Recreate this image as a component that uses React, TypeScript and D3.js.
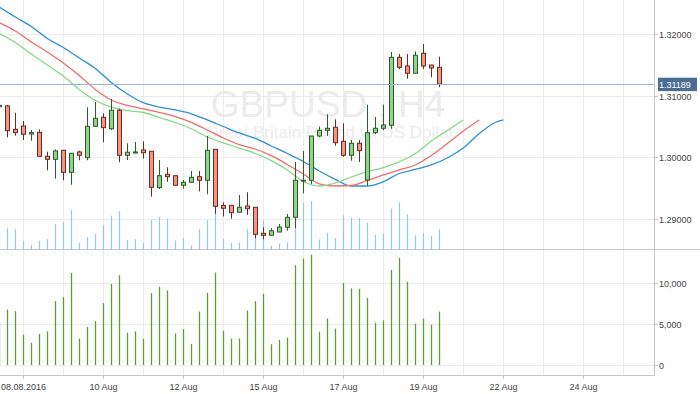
import { useEffect, useRef } from "react";
import * as d3 from "d3";

// H4 bars; the first one (index -1) is cut off at the left edge
const firstIndex = -1;
const opens = [1.30821, 1.30833, 1.30455, 1.30508, 1.30379, 1.30406, 1.30017, 1.29968, 1.30114, 1.29757, 1.30087,
  1.29994, 1.30503, 1.30649, 1.30464, 1.30763, 1.30033, 1.30070, 1.30119, 1.30098, 1.29508,
  1.29725, 1.29702, 1.29547, 1.29595, 1.29686, 1.29628, 1.30130, 1.29219, 1.29222, 1.29109,
  1.29211, 1.29190, 1.28768, 1.28736, 1.28789, 1.28866, 1.29028, 1.29620, 1.29628, 1.30346,
  1.30438, 1.30487, 1.30260, 1.30033, 1.30228, 1.29633, 1.30400, 1.30471, 1.30519, 1.31622,
  1.31481, 1.31363, 1.31687, 1.31497, 1.31460];
const highs = [1.30857, 1.30849, 1.30724, 1.30589, 1.30443, 1.30455, 1.30091, 1.30130, 1.30114, 1.30066, 1.30108,
  1.30811, 1.30897, 1.30714, 1.30941, 1.30789, 1.30228, 1.30249, 1.30260, 1.30098, 1.29957,
  1.29839, 1.29702, 1.29633, 1.29779, 1.29779, 1.30346, 1.30130, 1.29271, 1.29222, 1.29389,
  1.29433, 1.29190, 1.28866, 1.28854, 1.28919, 1.29081, 1.29925, 1.30103, 1.30346, 1.30497,
  1.30698, 1.30617, 1.30552, 1.30281, 1.30281, 1.30854, 1.30654, 1.30854, 1.31708, 1.31676,
  1.31676, 1.31719, 1.31838, 1.31497, 1.31632];
const lows = [1.30808, 1.30325, 1.30351, 1.30281, 1.30270, 1.30017, 1.29790, 1.29654, 1.29628, 1.29556, 1.29952,
  1.29952, 1.30503, 1.30244, 1.30443, 1.29920, 1.29957, 1.30070, 1.29978, 1.29362, 1.29487,
  1.29605, 1.29547, 1.29492, 1.29595, 1.29449, 1.29401, 1.29086, 1.29041, 1.29005, 1.29109,
  1.29065, 1.28687, 1.28671, 1.28736, 1.28789, 1.28810, 1.28849, 1.29417, 1.29568, 1.30325,
  1.30346, 1.30189, 1.30010, 1.29946, 1.29925, 1.29540, 1.30379, 1.30438, 1.30464, 1.31428,
  1.31275, 1.31363, 1.31428, 1.31298, 1.31136];
const closes = [1.30844, 1.30432, 1.30400, 1.30374, 1.30400, 1.30017, 1.29968, 1.30103, 1.29757, 1.30066, 1.30033,
  1.30503, 1.30633, 1.30481, 1.30763, 1.30033, 1.30082, 1.30087, 1.30075, 1.29514, 1.29702,
  1.29686, 1.29547, 1.29595, 1.29676, 1.29628, 1.30114, 1.29206, 1.29174, 1.29102, 1.29190,
  1.29167, 1.28752, 1.28736, 1.28810, 1.28870, 1.29028, 1.29628, 1.29628, 1.30346, 1.30438,
  1.30471, 1.30237, 1.30033, 1.30228, 1.30108, 1.30400, 1.30471, 1.30524, 1.31622, 1.31460,
  1.31363, 1.31655, 1.31481, 1.31449, 1.31189];
const volumes = [5200, 6760, 6560, 3690, 2710, 3770, 4100, 7790, 8280, 11230, 3240,
  4630, 5370, 7540, 9880, 10940, 3930, 4100, 3200, 8770, 9550,
  9100, 3850, 4390, 2580, 6520, 8810, 11270, 4180, 3200, 3240,
  6640, 7790, 8690, 2540, 3070, 3360, 12170, 12990, 13440, 4060,
  5660, 4430, 10000, 9340, 9300, 8160, 5160, 5450, 11600, 13070,
  10160, 5040, 5660, 4920, 6520];

// alligator lines: [bar index, price]
const jawLine: [number, number][] = [[-1, 1.32438], [1, 1.32276], [3, 1.32122], [5, 1.31927], [7, 1.31781], [9, 1.31611],
  [11, 1.31441], [13, 1.31214], [15, 1.31027], [17, 1.30886], [19, 1.30816], [21, 1.30768], [23, 1.30706],
  [25, 1.30606], [27, 1.30500], [29, 1.30395], [31, 1.30306], [33, 1.30184], [35, 1.30062], [37, 1.29933],
  [39, 1.29779], [41, 1.29644], [43, 1.29535], [45, 1.29535], [47, 1.29605], [49, 1.29738], [51, 1.29803],
  [53, 1.29876], [55, 1.29989], [57, 1.30151], [59, 1.30387], [61, 1.30565], [62, 1.30606]];
const teethLine: [number, number][] = [[-1, 1.32183], [1, 1.32049], [3, 1.31870], [5, 1.31708], [7, 1.31530], [9, 1.31327],
  [11, 1.31100], [13, 1.30930], [15, 1.30841], [17, 1.30787], [19, 1.30730], [21, 1.30661], [23, 1.30568],
  [25, 1.30443], [27, 1.30314], [29, 1.30205], [31, 1.30135], [33, 1.30027], [35, 1.29884], [37, 1.29730],
  [39, 1.29571], [41, 1.29535], [43, 1.29543], [45, 1.29625], [47, 1.29714], [49, 1.29795], [51, 1.29876],
  [53, 1.30030], [55, 1.30224], [57, 1.30427], [59, 1.30606]];
const lipsLine: [number, number][] = [[-1, 1.32011], [1, 1.31862], [3, 1.31676], [5, 1.31497], [7, 1.31319], [9, 1.31100],
  [11, 1.30922], [13, 1.30816], [15, 1.30760], [17, 1.30727], [19, 1.30646], [21, 1.30565], [23, 1.30463],
  [25, 1.30330], [27, 1.30236], [29, 1.30151], [31, 1.30062], [33, 1.29946], [35, 1.29795], [37, 1.29608],
  [39, 1.29535], [41, 1.29584], [43, 1.29681], [45, 1.29770], [47, 1.29835], [49, 1.29925], [51, 1.30062],
  [53, 1.30265], [55, 1.30435], [57, 1.30606]];

const priceTicks = [1.29, 1.30, 1.31, 1.32];
const volumeTicks = [0, 5000, 10000];
const dateTickIndex = [2, 12, 22, 32, 42, 52, 62, 72];
const dateTickLabels = ["08.08.2016", "10 Aug", "12 Aug", "15 Aug", "17 Aug", "19 Aug", "22 Aug", "24 Aug"];
const lastPrice = 1.31189;

export default function App() {
  const svgRef = useRef<SVGSVGElement>(null);
  useEffect(() => {
    if (!svgRef.current) return;
    const width = 700, height = 394;
    const plotRight = 654, topBottom = 249, volBottom = 375;
    const font = "'Liberation Sans', Arial, sans-serif";
    const svg = d3.select(svgRef.current);
    svg.selectAll("*").remove();
    svg.attr("width", width).attr("height", height);

    const x = d3.scaleLinear().domain([0, 1]).range([7.3, 15.3]);
    const y = d3.scaleLinear().domain([1.29, 1.32]).range([219, 34]);
    const yVol = d3.scaleLinear().domain([0, 10000]).range([365, 283]);
    const yOverlay = d3.scaleLinear().domain([1730, 13440]).range([topBottom, 201]);

    const bars = opens.map((o, i) => ({
      i: firstIndex + i, o, h: highs[i], l: lows[i], c: closes[i], v: volumes[i]
    }));

    svg.append("rect").attr("width", width).attr("height", height).attr("fill", "#fff");

    const defs = svg.append("defs");
    defs.append("clipPath").attr("id", "clipTop")
      .append("rect").attr("x", 0).attr("y", 0).attr("width", plotRight).attr("height", topBottom);
    defs.append("clipPath").attr("id", "clipVol")
      .append("rect").attr("x", 0).attr("y", topBottom).attr("width", plotRight).attr("height", volBottom - topBottom);

    // grid
    const grid = svg.append("g").attr("stroke", "#ececec").attr("stroke-width", 1);
    d3.range(-1, 16).forEach(j => {
      const gx = Math.round(x(2 + 5 * j)) + 0.5;
      if (gx < 0 || gx > plotRight) return;
      grid.append("line").attr("x1", gx).attr("x2", gx).attr("y1", 0).attr("y2", volBottom);
    });
    priceTicks.forEach(p => {
      const gy = Math.round(y(p)) + 0.5;
      grid.append("line").attr("x1", 0).attr("x2", plotRight).attr("y1", gy).attr("y2", gy);
    });
    volumeTicks.forEach(v => {
      const gy = Math.round(yVol(v)) + 0.5;
      grid.append("line").attr("x1", 0).attr("x2", plotRight).attr("y1", gy).attr("y2", gy);
    });

    // watermark
    svg.append("text").attr("x", 328).attr("y", 117).attr("text-anchor", "middle")
      .attr("font-family", font).attr("font-size", 37).attr("fill", "#ececec")
      .text("GBPUSD , H4");
    svg.append("text").attr("x", 330).attr("y", 138).attr("text-anchor", "middle")
      .attr("font-family", font).attr("font-size", 17).attr("fill", "#ececec")
      .text("Great Britain Pound vs US Dollar");

    const top = svg.append("g").attr("clip-path", "url(#clipTop)");

    // volume overlay in price panel
    top.append("g").selectAll("line").data(bars).enter().append("line")
      .attr("x1", d => Math.round(x(d.i)) + 0.5).attr("x2", d => Math.round(x(d.i)) + 0.5)
      .attr("y1", topBottom).attr("y2", d => yOverlay(d.v))
      .attr("stroke", "#8ec9ef").attr("stroke-width", 1.2);

    // alligator
    const line = d3.line<[number, number]>().x(d => x(d[0])).y(d => y(d[1])).curve(d3.curveMonotoneX);
    [[jawLine, "#2b8fd6"], [teethLine, "#f26a6a"], [lipsLine, "#88d888"]].forEach(([pts, col]) => {
      top.append("path").attr("d", line(pts as [number, number][]))
        .attr("fill", "none").attr("stroke", col as string).attr("stroke-width", 1.3);
    });

    // candles
    const candle = top.append("g").selectAll("g").data(bars).enter().append("g");
    const up = (d: any) => d.c >= d.o;
    candle.append("line")
      .attr("x1", d => Math.round(x(d.i)) + 0.5).attr("x2", d => Math.round(x(d.i)) + 0.5)
      .attr("y1", d => y(d.h)).attr("y2", d => y(d.l))
      .attr("stroke", d => up(d) ? "#2c5e2c" : "#6e2a22").attr("stroke-width", 1);
    candle.append("rect")
      .attr("x", d => Math.round(x(d.i)) - 1.5).attr("width", 4)
      .attr("y", d => y(Math.max(d.o, d.c)))
      .attr("height", d => Math.max(0.8, Math.abs(y(d.o) - y(d.c))))
      .attr("fill", d => up(d) ? "#8fd38c" : "#f59482")
      .attr("stroke", d => up(d) ? "#2c5e2c" : "#6e2a22").attr("stroke-width", 1);

    // last price line
    const ly = Math.round(y(lastPrice)) + 0.5;
    svg.append("line").attr("x1", 0).attr("x2", plotRight).attr("y1", ly).attr("y2", ly)
      .attr("stroke", "#9fb3cf").attr("stroke-width", 1);

    // volume panel
    svg.append("g").attr("clip-path", "url(#clipVol)")
      .selectAll("line").data(bars).enter().append("line")
      .attr("x1", d => Math.round(x(d.i)) + 0.5).attr("x2", d => Math.round(x(d.i)) + 0.5)
      .attr("y1", yVol(0)).attr("y2", d => yVol(d.v))
      .attr("stroke", "#5c9a3a").attr("stroke-width", 1.3);

    // axes
    const axisCol = "#c4c7ce";
    svg.append("line").attr("x1", 0).attr("x2", width).attr("y1", topBottom + 0.5).attr("y2", topBottom + 0.5)
      .attr("stroke", axisCol);
    svg.append("line").attr("x1", plotRight + 0.5).attr("x2", plotRight + 0.5).attr("y1", 0).attr("y2", volBottom + 0.5)
      .attr("stroke", axisCol);
    svg.append("line").attr("x1", 0).attr("x2", plotRight + 0.5).attr("y1", volBottom + 0.5).attr("y2", volBottom + 0.5)
      .attr("stroke", axisCol);

    const rightTicks = [
      ...priceTicks.map(p => ({ yy: Math.round(y(p)) + 0.5, label: p.toFixed(5) })),
      ...volumeTicks.map(v => ({ yy: Math.round(yVol(v)) + 0.5, label: d3.format(",")(v) }))
    ];
    rightTicks.forEach(t => {
      svg.append("line").attr("x1", plotRight).attr("x2", plotRight + 4).attr("y1", t.yy).attr("y2", t.yy)
        .attr("stroke", axisCol);
      svg.append("text").attr("x", plotRight + 5).attr("y", t.yy + 3.3)
        .attr("font-family", font).attr("font-size", 9).attr("fill", "#444").text(t.label);
    });

    dateTickIndex.forEach((idx, k) => {
      const tx = Math.round(x(idx)) + 0.5;
      svg.append("line").attr("x1", tx).attr("x2", tx).attr("y1", volBottom).attr("y2", volBottom + 4)
        .attr("stroke", axisCol);
      svg.append("text").attr("x", tx).attr("y", 389.5).attr("text-anchor", "middle")
        .attr("font-family", font).attr("font-size", 9).attr("fill", "#444").text(dateTickLabels[k]);
    });

    // last price tag
    svg.append("rect").attr("x", plotRight + 4).attr("y", ly - 6.8).attr("width", 39).attr("height", 13.4)
      .attr("fill", "#4a6d94");
    svg.append("text").attr("x", plotRight + 5).attr("y", ly + 3.3)
      .attr("font-family", font).attr("font-size", 9).attr("fill", "#fff").text(lastPrice.toFixed(5));
  }, []);
  return (
    <div style={{ position: "absolute", left: 0, top: 0 }}>
      <svg ref={svgRef}></svg>
    </div>
  );
}
